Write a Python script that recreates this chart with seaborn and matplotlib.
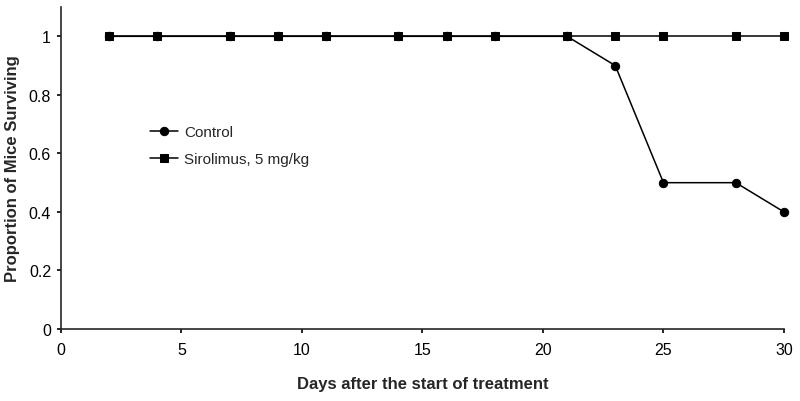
import pandas as pd
import seaborn as sns
import matplotlib.pyplot as plt

days = [2, 4, 7, 9, 11, 14, 16, 18, 21, 23, 25, 28, 30]
control = [1, 1, 1, 1, 1, 1, 1, 1, 1, 0.9, 0.5, 0.5, 0.4]
sirolimus = [1, 1, 1, 1, 1, 1, 1, 1, 1, 1, 1, 1, 1]
groups = ['Control', 'Sirolimus, 5 mg/kg']

df = pd.DataFrame({
    'day': days * 2,
    'prop': control + sirolimus,
    'group': [groups[0]] * len(days) + [groups[1]] * len(days),
})

sns.set_style('ticks')
plt.rcParams['font.family'] = ['Liberation Sans', 'DejaVu Sans']

fig = plt.figure(figsize=(8, 4.02), dpi=100)
ax = fig.add_axes([0.076, 0.179, 0.904, 0.801])

sns.lineplot(data=df, x='day', y='prop', hue='group', style='group',
             markers={groups[0]: 'o', groups[1]: 's'}, dashes=False,
             palette=['black', 'black'], linewidth=1.1, markersize=6,
             markeredgecolor='black', ax=ax, clip_on=False)

ax.set_xlim(0, 30)
ax.set_ylim(0, 1.1)
ax.set_xticks([0, 5, 10, 15, 20, 25, 30])
ax.set_yticks([0, 0.2, 0.4, 0.6, 0.8, 1.0])
ax.set_yticklabels(['0', '0.2', '0.4', '0.6', '0.8', '1'])
ax.tick_params(labelsize=11.5, length=3, width=1.2, colors='black', pad=4)
ax.tick_params(axis='x', pad=6)
for s in ['left', 'bottom']:
    ax.spines[s].set_linewidth(1.2)
sns.despine(ax=ax)

ax.set_xlabel('Days after the start of treatment', fontsize=12,
              fontweight='bold', labelpad=14)
ax.set_ylabel('Proportion of Mice Surviving', fontsize=12,
              fontweight='bold', labelpad=6)

ax.legend(loc='upper left', bbox_to_anchor=(0.105, 0.675), frameon=False,
          fontsize=11, handlelength=1.8, handletextpad=0.4, labelspacing=0.85)

fig.savefig('out.png', dpi=100)
